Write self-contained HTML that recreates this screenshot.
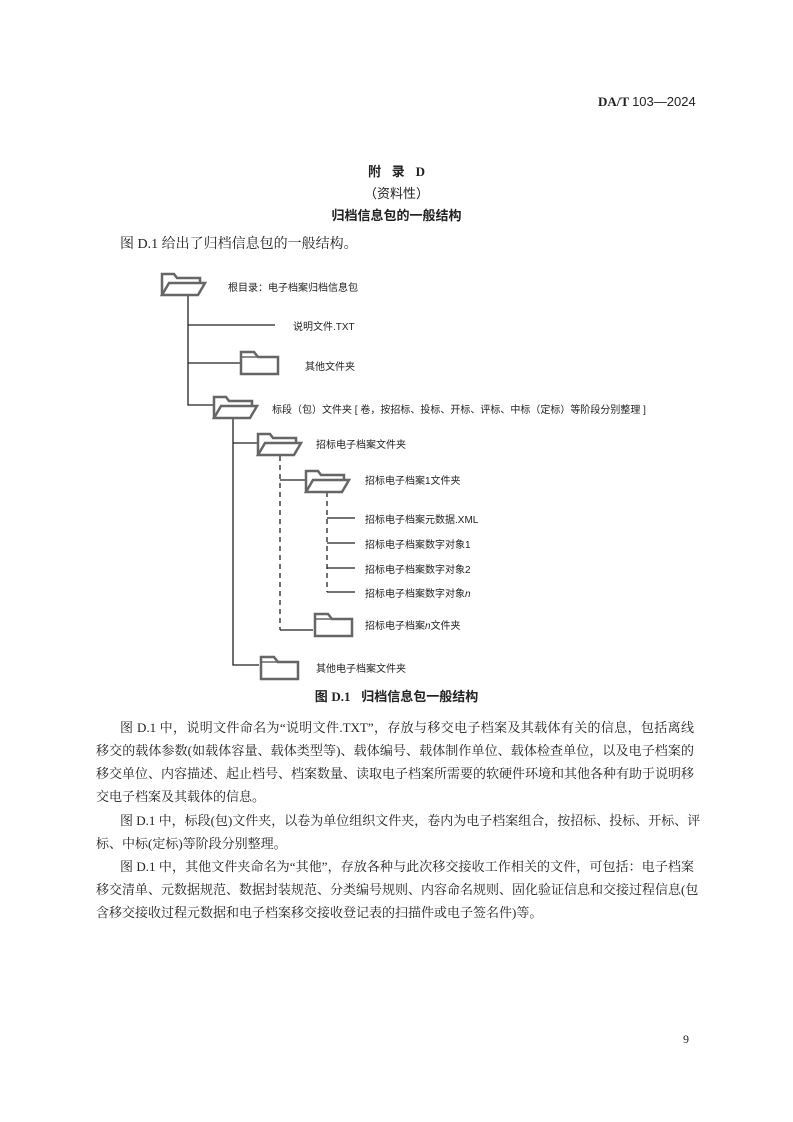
<!DOCTYPE html>
<html><head><meta charset="utf-8"><style>
html,body{margin:0;padding:0;background:#fff}
body{width:793px;height:1122px;position:relative;overflow:hidden;font-family:"Liberation Serif","Noto Serif CJK SC",serif;color:#222}
.a{position:absolute;white-space:nowrap}
.h{font-family:"Liberation Sans","Noto Sans CJK SC",sans-serif}
.d{font-family:"Liberation Sans","Noto Sans CJK SC",sans-serif;font-size:10px;color:#222}
.l{position:absolute;left:96px;width:598px;font-size:13px;line-height:23px;text-align:justify;text-align-last:justify;white-space:nowrap}
.l.i{left:120px;width:574px}
.l.e{text-align-last:left}
</style></head><body>
<div class="a" style="left:598px;top:94px;font-size:13px;font-weight:bold;">DA/T <span class="h" style="font-weight:normal">103—2024</span></div>
<div class="a h" style="left:0;width:793px;text-align:center;top:161px;font-size:13px;font-weight:bold;">附&nbsp;&nbsp;&nbsp;录&nbsp;&nbsp;&nbsp;<span style="font-family:'Liberation Serif'">D</span></div>
<div class="a h" style="left:0;width:793px;text-align:center;top:183px;font-size:13px;">（资料性）</div>
<div class="a h" style="left:0;width:793px;text-align:center;top:205px;font-size:13px;font-weight:bold;">归档信息包的一般结构</div>
<div class="a" style="left:120px;top:233px;font-size:14px;">图 D.1 给出了归档信息包的一般结构。</div>

<svg style="position:absolute;left:0;top:0" width="793" height="1122">
<defs>
<g id="of"><path d="M2 24 L2 3 L14 3 L17 7 L40 7 L40 12" fill="none" stroke="#666" stroke-width="2.5"/><path d="M2 24 L9 12 L45 12 L38 24 Z" fill="#fff" stroke="#666" stroke-width="2.5"/></g>
<g id="cf"><path d="M1 23 L1 1 L14 1 L18 6 L38 6 L38 23 Z" fill="#fff" stroke="#666" stroke-width="2.5"/><path d="M1 6 L18 6" stroke="#666" stroke-width="1.5"/></g>
</defs>
<g stroke="#222" stroke-width="1.3" fill="none">
<path d="M188 296 V405 H213 M188 325 H275 M188 363 H240"/>
<path d="M233 418 V665 H259 M233 443 H257"/>
<path d="M280 456 V630" stroke-dasharray="5,4"/>
<path d="M280 480 H305 M280 630 H313"/>
<path d="M327 492 V592" stroke-dasharray="5,4"/>
<path d="M327 518 H355 M327 543 H355 M327 568 H355 M327 592 H355"/>
</g>
<use href="#of" x="160" y="271"/>
<use href="#cf" x="240" y="351"/>
<use href="#of" x="212" y="394"/>
<use href="#of" x="256" y="431"/>
<use href="#of" x="304" y="468"/>
<use href="#cf" x="314" y="613"/>
<use href="#cf" x="260" y="656"/>
</svg>
<div class="a d" style="left:228px;top:279px">根目录：电子档案归档信息包</div>
<div class="a d" style="left:293px;top:318px">说明文件.TXT</div>
<div class="a d" style="left:305px;top:358px">其他文件夹</div>
<div class="a d" style="left:272px;top:401px">标段（包）文件夹 [ 卷，按招标、投标、开标、评标、中标（定标）等阶段分别整理 ]</div>
<div class="a d" style="left:316px;top:436px">招标电子档案文件夹</div>
<div class="a d" style="left:365px;top:472px">招标电子档案1文件夹</div>
<div class="a d" style="left:365px;top:511px">招标电子档案元数据.XML</div>
<div class="a d" style="left:365px;top:536px">招标电子档案数字对象1</div>
<div class="a d" style="left:365px;top:561px">招标电子档案数字对象2</div>
<div class="a d" style="left:365px;top:585px">招标电子档案数字对象<i>n</i></div>
<div class="a d" style="left:365px;top:617px">招标电子档案<i>n</i>文件夹</div>
<div class="a d" style="left:316px;top:660px">其他电子档案文件夹</div>
<div class="a h" style="left:0;width:793px;text-align:center;top:686px;font-size:13px;font-weight:bold;">图 <span style="font-family:'Liberation Serif'">D.1</span>&nbsp;&nbsp;&nbsp;归档信息包一般结构</div>

<div class="l i" style="top:716px">图 D.1 中，说明文件命名为“说明文件.TXT”，存放与移交电子档案及其载体有关的信息，包括离线</div>
<div class="l" style="top:739px">移交的载体参数(如载体容量、载体类型等)、载体编号、载体制作单位、载体检查单位，以及电子档案的</div>
<div class="l" style="top:762px">移交单位、内容描述、起止档号、档案数量、读取电子档案所需要的软硬件环境和其他各种有助于说明移</div>
<div class="l e" style="top:785px">交电子档案及其载体的信息。</div>
<div class="l i" style="top:809px">图 D.1 中，标段(包)文件夹，以卷为单位组织文件夹，卷内为电子档案组合，按招标、投标、开标、评</div>
<div class="l e" style="top:832px">标、中标(定标)等阶段分别整理。</div>
<div class="l i" style="top:855px">图 D.1 中，其他文件夹命名为“其他”，存放各种与此次移交接收工作相关的文件，可包括：电子档案</div>
<div class="l" style="top:878px">移交清单、元数据规范、数据封装规范、分类编号规则、内容命名规则、固化验证信息和交接过程信息(包</div>
<div class="l e" style="top:901px">含移交接收过程元数据和电子档案移交接收登记表的扫描件或电子签名件)等。</div>
<div class="a" style="left:683px;top:1032px;font-size:12px;">9</div>
</body></html>
